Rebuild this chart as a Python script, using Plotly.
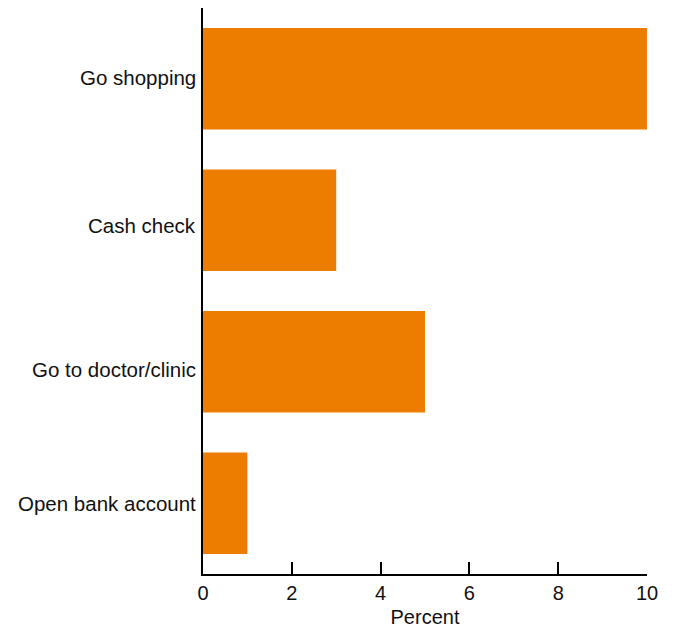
import plotly.graph_objects as go

categories = ["Go shopping", "Cash check", "Go to doctor/clinic", "Open bank account"]
values = [10, 3, 5, 1]
x_ticks = [0, 2, 4, 6, 8, 10]

# style: small vertical nudges of the category labels, as in the original
label_nudge = [1, -5, -8, 0]

FONT = "Liberation Sans, Arial, sans-serif"

fig = go.Figure(go.Bar(
    x=values, y=categories, orientation="h",
    marker=dict(color="#ED7D00", line=dict(width=0)),
))

for cat, dy in zip(categories, label_nudge):
    fig.add_annotation(
        x=0, xref="paper", y=cat, yref="y",
        text=cat, showarrow=False, xanchor="right", yanchor="middle",
        xshift=-5, yshift=dy,
        font=dict(family=FONT, size=20.5, color="#111111"),
    )

fig.update_layout(
    width=662, height=620,
    margin=dict(l=195, r=23, t=0, b=54),
    plot_bgcolor="white", paper_bgcolor="white",
    bargap=0.284,
    showlegend=False,
    font=dict(family=FONT, size=20, color="#111111"),
)
fig.update_xaxes(
    range=[0, 10], tickvals=x_ticks, ticktext=[str(v) for v in x_ticks],
    showgrid=False, zeroline=False, automargin=False,
    showline=True, linecolor="black", linewidth=2,
    ticks="inside", ticklen=12, tickwidth=2, tickcolor="black",
    ticklabelstandoff=0,
    title=dict(text="Percent", font=dict(family=FONT, size=20), standoff=16),
)
fig.update_yaxes(
    categoryorder="array", categoryarray=categories,
    autorange=False, range=[3.5, -0.5],
    showgrid=False, zeroline=False, automargin=False,
    showline=True, linecolor="black", linewidth=2,
    ticks="", showticklabels=False,
)

fig.write_html("out.html")
